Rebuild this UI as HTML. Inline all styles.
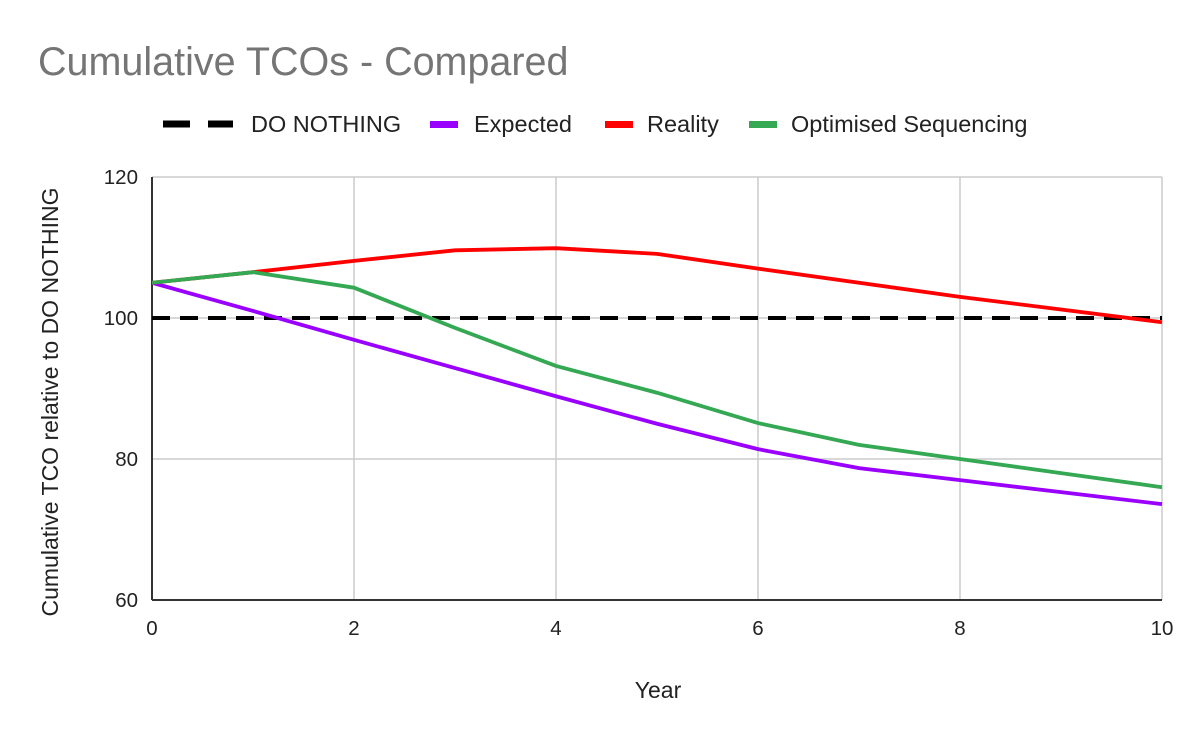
<!DOCTYPE html>
<html><head><meta charset="utf-8"><style>
body{margin:0;background:#fff;}
svg{display:block;font-family:"Liberation Sans",Arial,sans-serif;}
</style></head><body>
<svg id="chart" width="1200" height="742">
<rect width="1200" height="742" fill="#fff"/>
<text x="38" y="75" font-size="39.5" fill="#757575">Cumulative TCOs - Compared</text>
<g id="legend">
<g><line x1="163" y1="124" x2="233" y2="124" stroke="#000" stroke-width="7" stroke-dasharray="27,18"/><text x="251" y="132" font-size="23.5" fill="#222">DO NOTHING</text></g>
<g><rect x="430" y="121" width="28" height="7" fill="#9900ff"/><text x="474" y="132" font-size="23.5" fill="#222">Expected</text></g>
<g><rect x="605" y="121" width="28" height="7" fill="#ff0000"/><text x="647" y="132" font-size="23.5" fill="#222">Reality</text></g>
<g><rect x="749" y="121" width="28" height="7" fill="#34a853"/><text x="791" y="132" font-size="23.5" fill="#222">Optimised Sequencing</text></g>
</g>
<g id="grid"></g>
<g id="series"></g>
<text x="0" y="0" font-size="23" fill="#222" text-anchor="middle" transform="translate(58,402) rotate(-90)">Cumulative TCO relative to DO NOTHING</text>
<text x="658" y="698" font-size="23" fill="#222" text-anchor="middle">Year</text>
</svg>
<script>
const years=[0,1,2,3,4,5,6,7,8,9,10];
const doNothing=[100,100,100,100,100,100,100,100,100,100,100];
const expected=[105,101,96.9,92.9,88.9,85,81.4,78.7,77,75.3,73.6];
const reality=[105,106.5,108.1,109.6,109.9,109.1,107,105,103,101.2,99.4];
const optimised=[105,106.5,104.3,98.6,93.2,89.4,85.1,82,80,78,76];
const xTicks=[0,2,4,6,8,10];
const yTicks=[60,80,100,120];
const NS="http://www.w3.org/2000/svg";
const X0=152,X1=1162,Y0=600,Y1=177;
const xs=v=>X0+(v-0)/(10-0)*(X1-X0);
const ys=v=>Y0-(v-60)/(120-60)*(Y0-Y1);
const grid=document.getElementById('grid'),ser=document.getElementById('series');
function mk(t,a,p){const e=document.createElementNS(NS,t);for(const k in a)e.setAttribute(k,a[k]);p.appendChild(e);return e;}
xTicks.forEach(t=>{
 const l=mk('line',{x1:xs(t),x2:xs(t),y1:Y1,y2:Y0,stroke:'#ccc','stroke-width':1.5},grid);
 
 
 const tx=mk('text',{x:xs(t),y:Y0+35,'font-size':20.5,fill:'#222','text-anchor':'middle'},grid);tx.textContent=t;
 
 
});
yTicks.forEach(t=>{
 const l=mk('line',{x1:X0,x2:X1,y1:ys(t),y2:ys(t),stroke:'#ccc','stroke-width':1.5},grid);
 
 
 const tx=mk('text',{x:X0-14,y:ys(t)+7,'font-size':20.5,fill:'#222','text-anchor':'end'},grid);tx.textContent=t;
 
 
});
const ax=mk('line',{x1:X0,x2:X0,y1:Y1,y2:Y0,stroke:'#333','stroke-width':2},grid);


const bx=mk('line',{x1:X0,x2:X1,y1:Y0,y2:Y0,stroke:'#333','stroke-width':2},grid);


function line(vals,color,name,dash){
 const p=mk('polyline',{points:vals.map((v,i)=>xs(years[i])+','+ys(v)).join(' '),fill:'none',stroke:color,'stroke-width':dash?4:3.8,'stroke-linejoin':'round'},ser);
 if(dash)p.setAttribute('stroke-dasharray',dash);
 
 
}
line(doNothing,'#000','series-do-nothing','18,10');
line(expected,'#9900ff','series-expected');
line(reality,'#ff0000','series-reality');
line(optimised,'#34a853','series-optimised');
</script>
</body></html>
